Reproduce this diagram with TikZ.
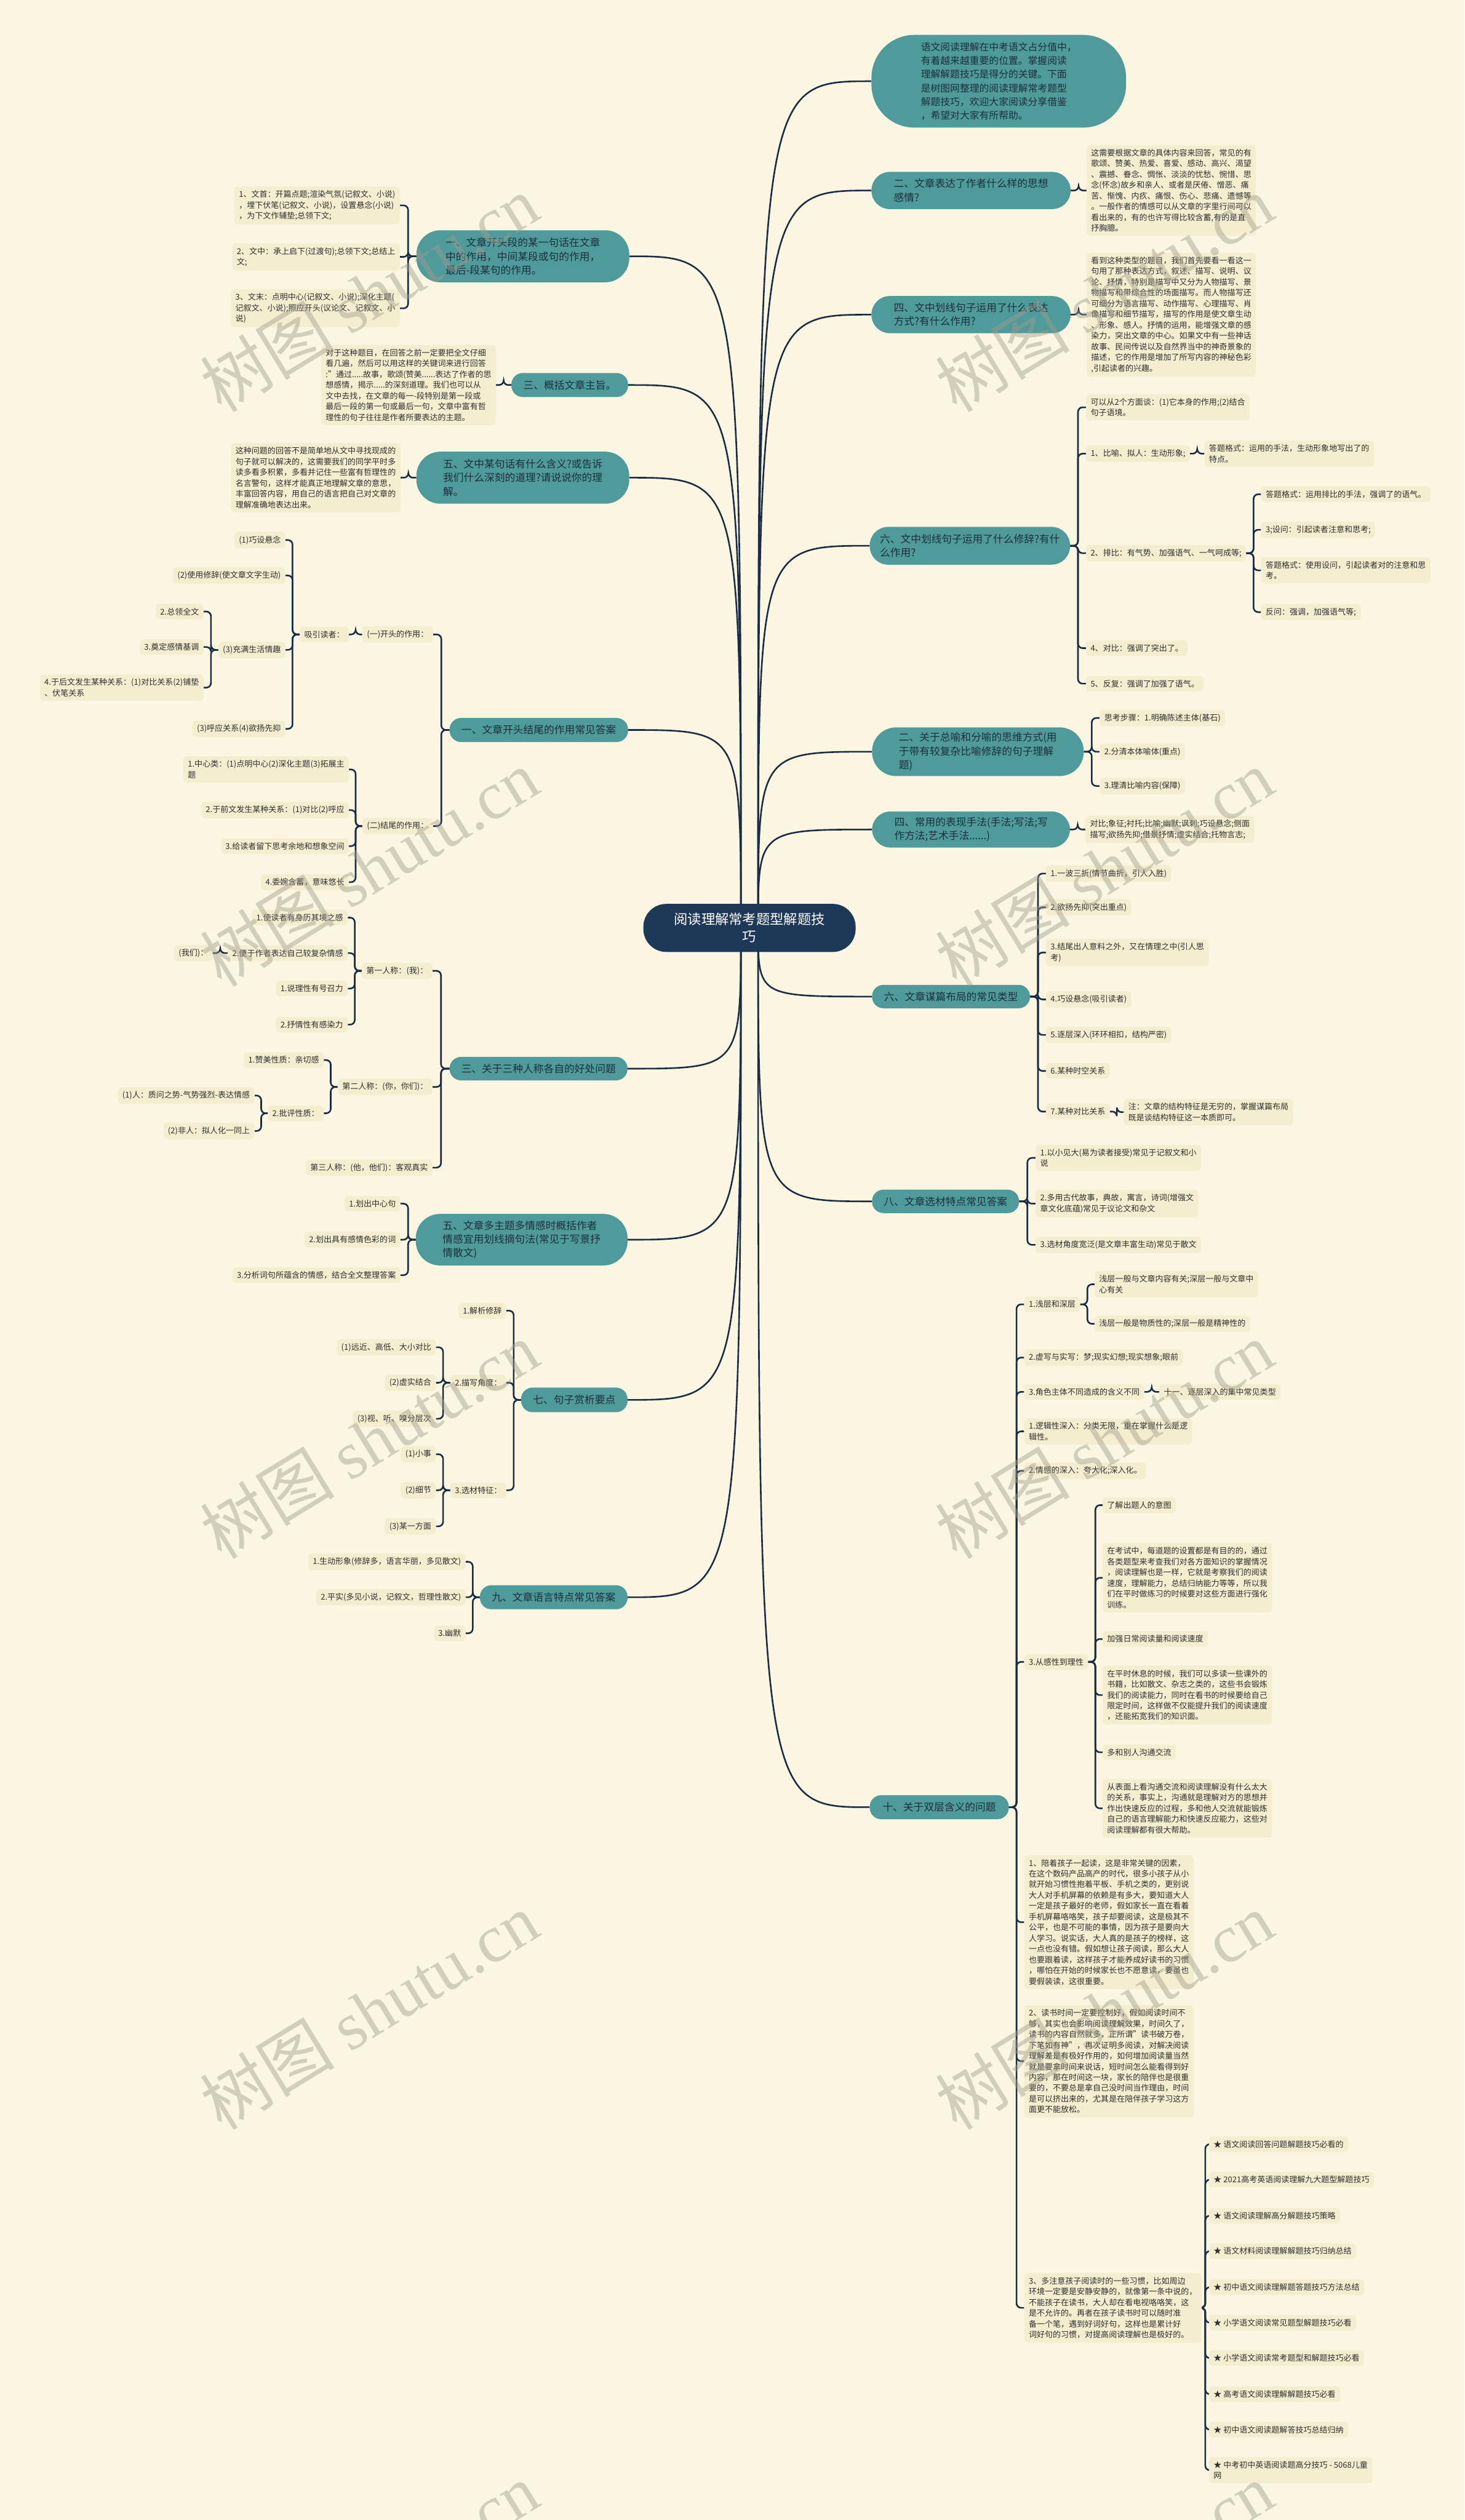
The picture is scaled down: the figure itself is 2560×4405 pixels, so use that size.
\documentclass[tikz,border=0pt]{standalone}
\usepackage{fontspec}
\setmainfont{Noto Sans CJK SC}
\newfontfamily\wmfont{Liberation Serif}
\usetikzlibrary{calc,backgrounds}
\definecolor{paper}{HTML}{FAF6E2}
\definecolor{leafc}{HTML}{F4EDCF}
\definecolor{leaftxt}{HTML}{2F2F2F}
\definecolor{tealc}{HTML}{4F9A9B}
\definecolor{tealtxt}{HTML}{1D2F3E}
\definecolor{rootc}{HTML}{1D3957}
\definecolor{linec}{HTML}{1A2D44}
\definecolor{wmc}{HTML}{A09E8C}
\begin{document}
\begin{tikzpicture}[x=1pt, y=-1pt, line join=round, line cap=round,
	leaf/.style={fill=leafc, text=leaftxt, rounded corners=6pt, inner xsep=8pt, inner ysep=7pt, align=left, font=\fontsize{14}{18.8}\selectfont},
	topic/.style={fill=tealc, text=tealtxt, rounded corners=20pt, inner sep=4pt, align=left, font=\fontsize{18}{24}\selectfont},
	topicb/.style={topic, rounded corners=32pt},
	topicc/.style={topic, rounded corners=42pt},
	main/.style={draw=linec, line width=2.8pt},
	link/.style={draw=linec, line width=2.8pt, rounded corners=8pt},
	wm/.style={text=wmc, opacity=.45, rotate=31.5, font=\fontsize{118}{118}\selectfont}]
	\useasboundingbox (0,0) rectangle (2560,4405);
	\def\rb#1#2{\draw[link] (#1.east) -- ($(#1.east)!.5!(#1.east -| #2.west)$) |- (#2.west);}
	\def\lb#1#2{\draw[link] (#1.west) -- ($(#1.west)!.5!(#1.west -| #2.east)$) |- (#2.east);}

	\node[fill=rootc, text=white, rounded corners=40pt, minimum width=371pt, minimum height=84pt, align=center, font=\fontsize{24}{30}\selectfont] (root) at (1310,1622) {阅读理解常考题型解题技\\巧};
	\coordinate (cR) at (1325,1622);
	\coordinate (cL) at (1295,1622);

	% right side
	\node[topic, anchor=west, minimum width=445pt, minimum height=162pt, rounded corners=75pt, font=\fontsize{17}{24}\selectfont] (intro) at (1523,142) {语文阅读理解在中考语文占分值中，\\有着越来越重要的位置。掌握阅读\\理解解题技巧是得分的关键。下面\\是树图网整理的阅读理解常考题型\\解题技巧，欢迎大家阅读分享借鉴\\，希望对大家有所帮助。};

	\node[topicb, anchor=west, minimum width=348pt, minimum height=65pt] (q2) at (1523,333) {二、文章表达了作者什么样的思想\\感情?};
	\node[leaf, anchor=west] (q2a) at (1899,333) {这需要根据文章的具体内容来回答，常见的有\\歌颂、赞美、热爱、喜爱、感动、高兴、渴望\\、震撼、眷念、惆怅、淡淡的忧愁、惋惜、思\\念(怀念)故乡和亲人、或者是厌倦、憎恶、痛\\苦、惭愧、内疚、痛恨、伤心、悲痛、遗憾等\\。一般作者的情感可以从文章的字里行间可以\\看出来的，有的也许写得比较含蓄,有的是直\\抒胸臆。};

	\node[topicb, anchor=west, minimum width=348pt, minimum height=65pt] (q4) at (1523,550) {四、文中划线句子运用了什么表达\\方式?有什么作用?};
	\node[leaf, anchor=west] (q4a) at (1899,550) {看到这种类型的题目，我们首先要看一看这一\\句用了那种表达方式，叙述、描写、说明、议\\论、抒情，特别是描写中又分为人物描写、景\\物描写和带综合性的场面描写。而人物描写还\\可细分为语言描写、动作描写、心理描写、肖\\像描写和细节描写，描写的作用是使文章生动\\、形象、感人。抒情的运用，能增强文章的感\\染力，突出文章的中心。如果文中有一些神话\\故事、民间传说以及自然界当中的神奇景象的\\描述，它的作用是增加了所写内容的神秘色彩\\,引起读者的兴趣。};

	\node[topicb, anchor=west, minimum width=350pt, minimum height=66pt] (q6) at (1520,954) {六、文中划线句子运用了什么修辞?有什\\么作用?};
	\node[leaf, anchor=west] (q6a) at (1898,712) {可以从2个方面谈：(1)它本身的作用;(2)结合\\句子语境。};
	\node[leaf, anchor=west] (q6b) at (1898,793) {1、比喻、拟人：生动形象;};
	\node[leaf, anchor=west] (q6b1) at (2105,793) {答题格式：运用的手法，生动形象地写出了的\\特点。};
	\node[leaf, anchor=west] (q6c) at (1898,967) {2、排比：有气势、加强语气、一气呵成等;};
	\node[leaf, anchor=west] (q6c1) at (2204,864) {答题格式：运用排比的手法，强调了的语气。};
	\node[leaf, anchor=west] (q6c2) at (2204,926) {3;设问：引起读者注意和思考;};
	\node[leaf, anchor=west] (q6c3) at (2204,997) {答题格式：使用设问，引起读者对的注意和思\\考。};
	\node[leaf, anchor=west] (q6c4) at (2204,1070) {反问：强调，加强语气等;};
	\node[leaf, anchor=west] (q6d) at (1898,1133) {4、对比：强调了突出了。};
	\node[leaf, anchor=west] (q6e) at (1898,1195) {5、反复：强调了加强了语气。};

	\node[topicc, anchor=west, minimum width=370pt, minimum height=85pt] (p2) at (1524,1314) {二、关于总喻和分喻的思维方式(用\\于带有较复杂比喻修辞的句子理解\\题)};
	\node[leaf, anchor=west] (p2a) at (1922,1255) {思考步骤：1.明确陈述主体(基石)};
	\node[leaf, anchor=west] (p2b) at (1922,1314) {2.分清本体喻体(重点)};
	\node[leaf, anchor=west] (p2c) at (1922,1374) {3.理清比喻内容(保障)};

	\node[topicb, anchor=west, minimum width=346pt, minimum height=63pt] (p4) at (1524,1450) {四、常用的表现手法(手法;写法;写\\作方法;艺术手法......)};
	\node[leaf, anchor=west] (p4a) at (1897,1450) {对比;象征;衬托;比喻;幽默;讽刺;巧设悬念;侧面\\描写;欲扬先抑;借景抒情;虚实结合;托物言志;};

	\node[topic, anchor=west, minimum width=276pt, minimum height=41pt] (p6) at (1524,1742) {六、文章谋篇布局的常见类型};
	\node[leaf, anchor=west] (p6a) at (1828,1527) {1.一波三折(情节曲折，引人入胜)};
	\node[leaf, anchor=west] (p6b) at (1828,1586) {2.欲扬先抑(突出重点)};
	\node[leaf, anchor=west] (p6c) at (1828,1665) {3.结尾出人意料之外，又在情理之中(引人思\\考)};
	\node[leaf, anchor=west] (p6d) at (1828,1747) {4.巧设悬念(吸引读者)};
	\node[leaf, anchor=west] (p6e) at (1828,1809) {5.逐层深入(环环相扣，结构严密)};
	\node[leaf, anchor=west] (p6f) at (1828,1872) {6.某种时空关系};
	\node[leaf, anchor=west] (p6g) at (1828,1943) {7.某种对比关系};
	\node[leaf, anchor=west] (p6g1) at (1964,1944) {注：文章的结构特征是无穷的，掌握谋篇布局\\既是谈结构特征这一本质即可。};

	\node[topic, anchor=west, minimum width=257pt, minimum height=41pt] (p8) at (1524,2100) {八、文章选材特点常见答案};
	\node[leaf, anchor=west] (p8a) at (1810,2024) {1.以小见大(易为读者接受)常见于记叙文和小\\说};
	\node[leaf, anchor=west] (p8b) at (1810,2104) {2.多用古代故事，典故，寓言，诗词(增强文\\章文化底蕴)常见于议论文和杂文};
	\node[leaf, anchor=west] (p8c) at (1810,2176) {3.选材角度宽泛(是文章丰富生动)常见于散文};

	\node[topic, anchor=west, minimum width=243pt, minimum height=42pt] (p10) at (1520,3159) {十、关于双层含义的问题};
	\node[leaf, anchor=west] (p10a) at (1790,2280) {1.浅层和深层};
	\node[leaf, anchor=west] (p10a1) at (1913,2245) {浅层一般与文章内容有关;深层一般与文章中\\心有关};
	\node[leaf, anchor=west] (p10a2) at (1913,2314) {浅层一般是物质性的;深层一般是精神性的};
	\node[leaf, anchor=west] (p10b) at (1790,2373) {2.虚写与实写：梦;现实幻想;现实想象;眼前};
	\node[leaf, anchor=west] (p10c) at (1790,2433) {3.角色主体不同造成的含义不同};
	\node[leaf, anchor=west] (p10c1) at (2026,2433) {十一、逐层深入的集中常见类型};
	\node[leaf, anchor=west] (p10d) at (1790,2502) {1.逻辑性深入：分类无限，重在掌握什么是逻\\辑性。};
	\node[leaf, anchor=west] (p10e) at (1790,2571) {2.情感的深入：夸大化;深入化。};
	\node[leaf, anchor=west] (p10f) at (1790,2905) {3.从感性到理性};
	\node[leaf, anchor=west] (p10f1) at (1927,2631) {了解出题人的意图};
	\node[leaf, anchor=west] (p10f2) at (1927,2758) {在考试中，每道题的设置都是有目的的，通过\\各类题型来考查我们对各方面知识的掌握情况\\，阅读理解也是一样，它就是考察我们的阅读\\速度，理解能力，总结归纳能力等等，所以我\\们在平时做练习的时候要对这些方面进行强化\\训练。};
	\node[leaf, anchor=west] (p10f3) at (1927,2865) {加强日常阅读量和阅读速度};
	\node[leaf, anchor=west] (p10f4) at (1927,2963) {在平时休息的时候，我们可以多读一些课外的\\书籍，比如散文、杂志之类的，这些书会锻炼\\我们的阅读能力，同时在看书的时候要给自己\\限定时间，这样做不仅能提升我们的阅读速度\\，还能拓宽我们的知识面。};
	\node[leaf, anchor=west] (p10f5) at (1927,3063) {多和别人沟通交流};
	\node[leaf, anchor=west] (p10f6) at (1927,3161) {从表面上看沟通交流和阅读理解没有什么太大\\的关系，事实上，沟通就是理解对方的思想并\\作出快速反应的过程，多和他人交流就能锻炼\\自己的语言理解能力和快速反应能力，这些对\\阅读理解都有很大帮助。};
	\node[leaf, anchor=west] (p10g) at (1790,3360) {1、陪着孩子一起读，这是非常关键的因素，\\在这个数码产品高产的时代，很多小孩子从小\\就开始习惯性抱着平板、手机之类的，更别说\\大人对手机屏幕的依赖是有多大，要知道大人\\一定是孩子最好的老师，假如家长一直在看着\\手机屏幕咯咯笑，孩子却要阅读，这是极其不\\公平，也是不可能的事情，因为孩子是要向大\\人学习。说实话，大人真的是孩子的榜样，这\\一点也没有错。假如想让孩子阅读，那么大人\\也要跟着读，这样孩子才能养成好读书的习惯\\，哪怕在开始的时候家长也不愿意读，要虽也\\要假装读，这很重要。};
	\node[leaf, anchor=west] (p10h) at (1790,3603) {2、读书时间一定要控制好，假如阅读时间不\\够，其实也会影响阅读理解效果，时间久了，\\读书的内容自然就多，正所谓"读书破万卷，\\下笔如有神"，再次证明多阅读，对解决阅读\\理解差是有极好作用的，如何增加阅读量当然\\就是要拿时间来说话，短时间怎么能看得到好\\内容，那在时间这一块，家长的陪伴也是很重\\要的，不要总是拿自己没时间当作理由，时间\\是可以挤出来的，尤其是在陪伴孩子学习这方\\面更不能放松。};
	\node[leaf, anchor=west] (p10i) at (1790,4034) {3、多注意孩子阅读时的一些习惯，比如周边\\环境一定要是安静安静的，就像第一条中说的，\\不能孩子在读书，大人却在看电视咯咯笑，这\\是不允许的。再者在孩子读书时可以随时准\\备一个笔，遇到好词好句，这样也是累计好\\词好句的习惯，对提高阅读理解也是极好的。};
	\node[leaf, anchor=west] (s1) at (2113,3748) {★ 语文阅读回答问题解题技巧必看的};
	\node[leaf, anchor=west] (s2) at (2113,3810) {★ 2021高考英语阅读理解九大题型解题技巧};
	\node[leaf, anchor=west] (s3) at (2113,3873) {★ 语文阅读理解高分解题技巧策略};
	\node[leaf, anchor=west] (s4) at (2113,3935) {★ 语文材料阅读理解解题技巧归纳总结};
	\node[leaf, anchor=west] (s5) at (2113,3998) {★ 初中语文阅读理解题答题技巧方法总结};
	\node[leaf, anchor=west] (s6) at (2113,4060) {★ 小学语文阅读常见题型解题技巧必看};
	\node[leaf, anchor=west] (s7) at (2113,4122) {★ 小学语文阅读常考题型和解题技巧必看};
	\node[leaf, anchor=west] (s8) at (2113,4185) {★ 高考语文阅读理解解题技巧必看};
	\node[leaf, anchor=west] (s9) at (2113,4247) {★ 初中语文阅读题解答技巧总结归纳};
	\node[leaf, anchor=west] (s10) at (2113,4318) {★ 中考初中英语阅读题高分技巧 - 5068儿童\\网};

	% left side
	\node[topicc, anchor=east, minimum width=372pt, minimum height=91pt] (q1) at (1100,448) {一、文章开头段的某一句话在文章\\中的作用，中间某段或句的作用，\\最后-段某句的作用。};
	\node[leaf, anchor=east] (q1a) at (699,359) {1、文首：开篇点题;渲染气氛(记叙文、小说)\\，埋下伏笔(记叙文、小说)，设置悬念(小说)\\，为下文作辅垫;总领下文;};
	\node[leaf, anchor=east] (q1b) at (699,449) {2、文中：承上启下(过渡句);总领下文;总结上\\文;};
	\node[leaf, anchor=east] (q1c) at (699,539) {3、文末：点明中心(记叙文、小说);深化主题(\\记叙文、小说);照应开头(议论文、记叙文、小\\说)};

	\node[topic, anchor=east, minimum width=204pt, minimum height=42pt] (q3) at (1098,673) {三、概括文章主旨。};
	\node[leaf, anchor=east] (q3a) at (867,673) {对于这种题目，在回答之前一定要把全文仔细\\看几遍，然后可以用这样的关键词来进行回答\\:"通过.....故事，歌颂(赞美......表达了作者的思\\想感情，揭示.....的深刻道理。我们也可以从\\文中去找，在文章的每一-段特别是第一段或\\最后一段的第一句或最后一句，文章中富有哲\\理性的句子往往是作者所要表达的主题。};

	\node[topicc, anchor=east, minimum width=372pt, minimum height=91pt] (q5) at (1100,835) {五、文中某句话有什么含义?或告诉\\我们什么深刻的道理?请说说你的理\\解。};
	\node[leaf, anchor=east] (q5a) at (700,835) {这种问题的回答不是简单地从文中寻找现成的\\句子就可以解决的，这需要我们的同学平时多\\读多看多积累，多看并记住一些富有哲理性的\\名言警句，这样才能真正地理解文章的意思，\\丰富回答内容，用自己的语言把自己对文章的\\理解准确地表达出来。};

	\node[topic, anchor=east, minimum width=312pt, minimum height=42pt] (p1) at (1098,1276) {一、文章开头结尾的作用常见答案};
	\node[leaf, anchor=east] (p1a) at (757,1109) {(一)开头的作用：};
	\node[leaf, anchor=east] (p1a1) at (610,1109) {吸引读者：};
	\node[leaf, anchor=east] (p1s1) at (499,944) {(1)巧设悬念};
	\node[leaf, anchor=east] (p1s2) at (499,1006) {(2)使用修辞(使文章文字生动)};
	\node[leaf, anchor=east] (p1s3) at (499,1136) {(3)充满生活情趣};
	\node[leaf, anchor=east] (p1s4) at (499,1274) {(3)呼应关系(4)欲扬先抑};
	\node[leaf, anchor=east] (p1t1) at (356,1069) {2.总领全文};
	\node[leaf, anchor=east] (p1t2) at (356,1131) {3.奠定感情基调};
	\node[leaf, anchor=east] (p1t3) at (356,1202) {4.于后文发生某种关系：(1)对比关系(2)铺垫\\、伏笔关系};
	\node[leaf, anchor=east] (p1b) at (757,1444) {(二)结尾的作用：};
	\node[leaf, anchor=east] (p1b1) at (610,1345) {1.中心类：(1)点明中心(2)深化主题(3)拓展主\\题};
	\node[leaf, anchor=east] (p1b2) at (610,1416) {2.于前文发生某种关系：(1)对比(2)呼应};
	\node[leaf, anchor=east] (p1b3) at (610,1479) {3.给读者留下思考余地和想象空间};
	\node[leaf, anchor=east] (p1b4) at (610,1542) {4.委婉含蓄，意味悠长};

	\node[topic, anchor=east, minimum width=311pt, minimum height=41pt] (p3) at (1097,1868) {三、关于三种人称各自的好处问题};
	\node[leaf, anchor=east] (p3a) at (756,1697) {第一人称：(我)：};
	\node[leaf, anchor=east] (p3a1) at (608,1604) {1.使读者有身历其境之感};
	\node[leaf, anchor=east] (p3a2) at (608,1666) {2.便于作者表达自己较复杂情感};
	\node[leaf, anchor=east] (p3a3) at (608,1728) {1.说理性有号召力};
	\node[leaf, anchor=east] (p3a4) at (608,1791) {2.抒情性有感染力};
	\node[leaf, anchor=east] (p3w) at (372,1666) {(我们)：};
	\node[leaf, anchor=east] (p3b) at (756,1900) {第二人称：(你，你们)：};
	\node[leaf, anchor=east] (p3b1) at (566,1853) {1.赞美性质：亲切感};
	\node[leaf, anchor=east] (p3b2) at (566,1946) {2.批评性质：};
	\node[leaf, anchor=east] (p3b2a) at (445,1915) {(1)人：质问之势-气势强烈-表达情感};
	\node[leaf, anchor=east] (p3b2b) at (445,1977) {(2)非人：拟人化一同上};
	\node[leaf, anchor=east] (p3c) at (756,2041) {第三人称：(他，他们)：客观真实};

	\node[topicc, anchor=east, minimum width=370pt, minimum height=90pt] (p5) at (1097,2167) {五、文章多主题多情感时概括作者\\情感宜用划线摘句法(常见于写景抒\\情散文)};
	\node[leaf, anchor=east] (p5a) at (700,2104) {1.划出中心句};
	\node[leaf, anchor=east] (p5b) at (700,2167) {2.划出具有感情色彩的词};
	\node[leaf, anchor=east] (p5c) at (700,2229) {3.分析词句所蕴含的情感，结合全文整理答案};

	\node[topic, anchor=east, minimum width=186pt, minimum height=43pt] (p7) at (1097,2447) {七、句子赏析要点};
	\node[leaf, anchor=east] (p7a) at (885,2291) {1.解析修辞};
	\node[leaf, anchor=east] (p7b) at (885,2417) {2.描写角度：};
	\node[leaf, anchor=east] (p7b1) at (762,2355) {(1)远近、高低、大小对比};
	\node[leaf, anchor=east] (p7b2) at (762,2417) {(2)虚实结合};
	\node[leaf, anchor=east] (p7b3) at (762,2480) {(3)视、听、嗅分层次};
	\node[leaf, anchor=east] (p7c) at (885,2605) {3.选材特征：};
	\node[leaf, anchor=east] (p7c1) at (762,2542) {(1)小事};
	\node[leaf, anchor=east] (p7c2) at (762,2605) {(2)细节};
	\node[leaf, anchor=east] (p7c3) at (762,2668) {(3)某一方面};

	\node[topic, anchor=east, minimum width=258pt, minimum height=42pt] (p9) at (1097,2792) {九、文章语言特点常见答案};
	\node[leaf, anchor=east] (p9a) at (814,2730) {1.生动形象(修辞多，语言华丽，多见散文)};
	\node[leaf, anchor=east] (p9b) at (814,2792) {2.平实(多见小说，记叙文，哲理性散文)};
	\node[leaf, anchor=east] (p9c) at (814,2855) {3.幽默};

	\begin{scope}[on background layer]
		\fill[paper] (0,0) rectangle (2560,4405);
		\foreach \n in {intro,q2,q4,q6,p2,p4,p6,p8,p10} \draw[main] (cR) .. controls (cR |- \n.west) .. (\n.west);
		\foreach \n in {q1,q3,q5,p1,p3,p5,p7,p9} \draw[main] (cL) .. controls (cL |- \n.east) .. (\n.east);
		\rb{q2}{q2a} \rb{q4}{q4a} \rb{p4}{p4a}
		\foreach \c in {a,b,c,d,e} \rb{q6}{q6\c};
		\rb{q6b}{q6b1}
		\foreach \c in {1,2,3,4} \rb{q6c}{q6c\c};
		\foreach \c in {a,b,c} \rb{p2}{p2\c};
		\foreach \c in {a,b,c,d,e,f,g} \rb{p6}{p6\c};
		\rb{p6g}{p6g1}
		\foreach \c in {a,b,c} \rb{p8}{p8\c};
		\foreach \c in {a,b,c,d,e,f,g,h,i} \rb{p10}{p10\c};
		\rb{p10a}{p10a1} \rb{p10a}{p10a2} \rb{p10c}{p10c1}
		\foreach \c in {1,...,6} \rb{p10f}{p10f\c};
		\foreach \c in {1,...,10} \rb{p10i}{s\c};
		\foreach \c in {a,b,c} \lb{q1}{q1\c};
		\lb{q3}{q3a} \lb{q5}{q5a}
		\lb{p1}{p1a} \lb{p1}{p1b} \lb{p1a}{p1a1}
		\foreach \c in {1,...,4} \lb{p1a1}{p1s\c};
		\foreach \c in {1,2,3} \lb{p1s3}{p1t\c};
		\foreach \c in {1,...,4} \lb{p1b}{p1b\c};
		\foreach \c in {a,b,c} \lb{p3}{p3\c};
		\foreach \c in {1,...,4} \lb{p3a}{p3a\c};
		\lb{p3a2}{p3w}
		\lb{p3b}{p3b1} \lb{p3b}{p3b2} \lb{p3b2}{p3b2a} \lb{p3b2}{p3b2b}
		\foreach \c in {a,b,c} \lb{p5}{p5\c};
		\foreach \c in {a,b,c} \lb{p7}{p7\c};
		\foreach \c in {1,2,3} {\lb{p7b}{p7b\c} \lb{p7c}{p7c\c}}
		\foreach \c in {a,b,c} \lb{p9}{p9\c};
	\end{scope}

	\foreach \y in {513,1517,2517,3515,4512}
		\foreach \x in {645,1930}
			\node[wm] at (\x,\y) {树图 {\wmfont shutu.cn}};
\end{tikzpicture}
\end{document}
